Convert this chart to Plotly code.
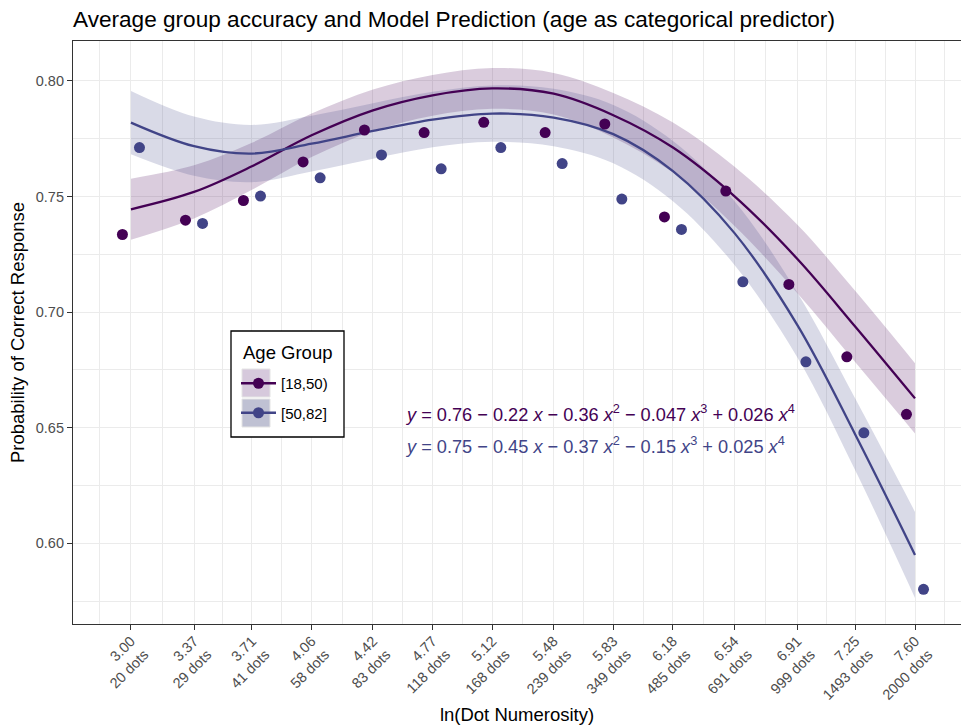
import plotly.graph_objects as go

# ---------------- data ----------------
ln_num = [3.00, 3.37, 3.71, 4.06, 4.42, 4.77, 5.12, 5.48, 5.83, 6.18, 6.54, 6.91, 7.25, 7.60]
dots = [20, 29, 41, 58, 83, 118, 168, 239, 349, 485, 691, 999, 1493, 2000]
groups = ["[18,50)", "[50,82]"]

acc_young = [0.7336, 0.7398, 0.7483, 0.7650, 0.7788, 0.7777, 0.7821, 0.7777, 0.7814,
             0.7412, 0.7524, 0.7120, 0.6807, 0.6558]
acc_old = [0.7712, 0.7384, 0.7502, 0.7581, 0.7680, 0.7620, 0.7712, 0.7643, 0.7489,
           0.7358, 0.7131, 0.6785, 0.6478, 0.5801]

fit_young = [0.7445, 0.7520, 0.7631, 0.7765, 0.7873, 0.7938, 0.7968, 0.7945, 0.7852,
             0.7712, 0.7502, 0.7230, 0.6937, 0.6627]
fit_young_hi = [0.7577, 0.7635, 0.7733, 0.7859, 0.7963, 0.8026, 0.8056, 0.8035, 0.7948,
                0.7820, 0.7630, 0.7378, 0.7091, 0.6779]
fit_young_lo = [0.7313, 0.7405, 0.7529, 0.7671, 0.7783, 0.7850, 0.7880, 0.7855, 0.7756,
                0.7604, 0.7374, 0.7082, 0.6783, 0.6475]

fit_old = [0.7820, 0.7718, 0.7686, 0.7729, 0.7784, 0.7833, 0.7859, 0.7842, 0.7770,
           0.7610, 0.7343, 0.6944, 0.6470, 0.5950]
fit_old_hi = [0.7957, 0.7846, 0.7810, 0.7850, 0.7904, 0.7953, 0.7981, 0.7966, 0.7896,
              0.7740, 0.7481, 0.7084, 0.6625, 0.6136]
fit_old_lo = [0.7683, 0.7590, 0.7562, 0.7608, 0.7664, 0.7713, 0.7737, 0.7718, 0.7644,
              0.7480, 0.7205, 0.6804, 0.6315, 0.5764]

eq_young = ("<i>y</i> = 0.76 \u2212 0.22 <i>x</i> \u2212 0.36 <i>x</i><sup>2</sup> \u2212 0.047 <i>x</i>"
            "<sup>3</sup> + 0.026 <i>x</i><sup>4</sup>")
eq_old = ("<i>y</i> = 0.75 \u2212 0.45 <i>x</i> \u2212 0.37 <i>x</i><sup>2</sup> \u2212 0.15 <i>x</i>"
          "<sup>3</sup> + 0.025 <i>x</i><sup>4</sup>")

tick_text = [f"{v:.2f}<br>{d} dots" for v, d in zip(ln_num, dots)]
y_ticks = [0.60, 0.65, 0.70, 0.75, 0.80]

# ---------------- style ----------------
C_Y = "#440154"
C_O = "#414487"
F_Y = "rgba(68,1,84,0.2)"
F_O = "rgba(65,68,135,0.2)"
FONT = "Liberation Sans, Arial, sans-serif"
DODGE = 0.05

W, H = 961, 725
L, R, T, B = 73, 0, 41, 101
PW, PH = W - L - R, H - T - B


def px_x(p):
    return (p - L) / PW


def px_y(p):
    return (H - B - p) / PH


x_minor = [ln_num[0] - (ln_num[1] - ln_num[0]) / 2] + \
          [(a + b) / 2 for a, b in zip(ln_num[:-1], ln_num[1:])] + \
          [ln_num[-1] + (ln_num[-1] - ln_num[-2]) / 2]

fig = go.Figure()

# ribbons
for lo, hi, fc in [(fit_young_lo, fit_young_hi, F_Y), (fit_old_lo, fit_old_hi, F_O)]:
    fig.add_trace(go.Scatter(x=ln_num, y=lo, mode="lines", line=dict(width=0, shape="spline"),
                             showlegend=False, hoverinfo="skip"))
    fig.add_trace(go.Scatter(x=ln_num, y=hi, mode="lines", line=dict(width=0, shape="spline"),
                             fill="tonexty", fillcolor=fc, showlegend=False, hoverinfo="skip"))

# fitted lines
for fit, c in [(fit_young, C_Y), (fit_old, C_O)]:
    fig.add_trace(go.Scatter(x=ln_num, y=fit, mode="lines",
                             line=dict(color=c, width=2.3, shape="spline"),
                             showlegend=False, hoverinfo="skip"))

# points (dodged)
fig.add_trace(go.Scatter(x=[v - DODGE for v in ln_num], y=acc_young, mode="markers",
                         marker=dict(color=C_Y, size=11), name=groups[0], showlegend=False))
fig.add_trace(go.Scatter(x=[v + DODGE for v in ln_num], y=acc_old, mode="markers",
                         marker=dict(color=C_O, size=11), name=groups[1], showlegend=False))

# legend entries
for g, c in zip(groups, [C_Y, C_O]):
    fig.add_trace(go.Scatter(x=[None], y=[None], mode="lines+markers", name=g, legendgroup=g,
                             line=dict(color=c, width=2.3), marker=dict(color=c, size=11)))

x_range = [2.66, ln_num[-1] + (W - 915) / 170.43]
y_range = [0.5651, 0.8173]

shapes = [
    # legend box background
    dict(type="rect", xref="paper", yref="paper", x0=px_x(231), x1=px_x(344),
         y0=px_y(437), y1=px_y(331), fillcolor="white", line=dict(color="black", width=1.3),
         layer="above"),
    dict(type="rect", xref="paper", yref="paper", x0=px_x(242), x1=px_x(270),
         y0=px_y(397), y1=px_y(369), fillcolor="#D6C9DC", line=dict(width=1, color="#E4E4E4"),
         layer="above"),
    dict(type="rect", xref="paper", yref="paper", x0=px_x(242), x1=px_x(270),
         y0=px_y(427), y1=px_y(399), fillcolor="#BFC1D3", line=dict(width=1, color="#E4E4E4"),
         layer="above"),
]

fig.update_layout(
    width=W, height=H,
    margin=dict(l=L, r=R, t=T, b=B),
    paper_bgcolor="white", plot_bgcolor="white",
    font=dict(family=FONT, color="black"),
    title=dict(text="Average group accuracy and Model Prediction (age as categorical predictor)",
               x=0, xref="paper", xanchor="left", y=1 - 19 / H, yref="container", yanchor="middle",
               font=dict(size=22.6, color="black")),
    xaxis=dict(range=x_range, tickmode="array", tickvals=ln_num, ticktext=tick_text,
               tickangle=-45, tickfont=dict(size=14.5, color="#4D4D4D"),
               ticklabelstandoff=-3,
               ticks="outside", ticklen=5, tickwidth=1.1, tickcolor="#333333",
               showline=True, linecolor="#333333", linewidth=1.2, mirror=True,
               showgrid=True, gridcolor="#EBEBEB", gridwidth=1.1, zeroline=False,
               minor=dict(tickvals=x_minor, showgrid=True, gridcolor="#EBEBEB", gridwidth=0.55,
                          ticks=""),
               title=dict(text="ln(Dot Numerosity)", font=dict(size=18.5, color="black"),
                          standoff=10),
               automargin=False),
    yaxis=dict(range=y_range, tickmode="array", tickvals=y_ticks,
               ticktext=[f"{v:.2f}" for v in y_ticks],
               tickfont=dict(size=14.5, color="#4D4D4D"),
               ticks="outside", ticklen=5, tickwidth=1.1, tickcolor="#333333",
               showline=True, linecolor="#333333", linewidth=1.2, mirror=False,
               showgrid=True, gridcolor="#EBEBEB", gridwidth=1.1, zeroline=False,
               minor=dict(dtick=0.025, tick0=0.575, showgrid=True, gridcolor="#EBEBEB",
                          gridwidth=0.55, ticks=""),
               title=dict(text="Probability of Correct Response", font=dict(size=18.5, color="black"),
                          standoff=6),
               automargin=False),
    legend=dict(x=px_x(236), y=px_y(367), xanchor="left", yanchor="top",
                bgcolor="rgba(0,0,0,0)", borderwidth=0, traceorder="grouped",
                tracegroupgap=7, itemwidth=35,
                font=dict(size=15, color="black")),
    shapes=shapes,
    annotations=[
        dict(text="Age Group", xref="paper", yref="paper", x=px_x(241), y=px_y(352),
             xanchor="left", yanchor="middle", showarrow=False,
             font=dict(size=18.5, color="black")),
        dict(text=eq_young, xref="paper", yref="paper", x=px_x(403), y=px_y(413),
             xanchor="left", yanchor="middle", showarrow=False,
             font=dict(size=18.2, color=C_Y)),
        dict(text=eq_old, xref="paper", yref="paper", x=px_x(403), y=px_y(445),
             xanchor="left", yanchor="middle", showarrow=False,
             font=dict(size=18.2, color=C_O)),
    ],
)

fig.write_html("out.html")
